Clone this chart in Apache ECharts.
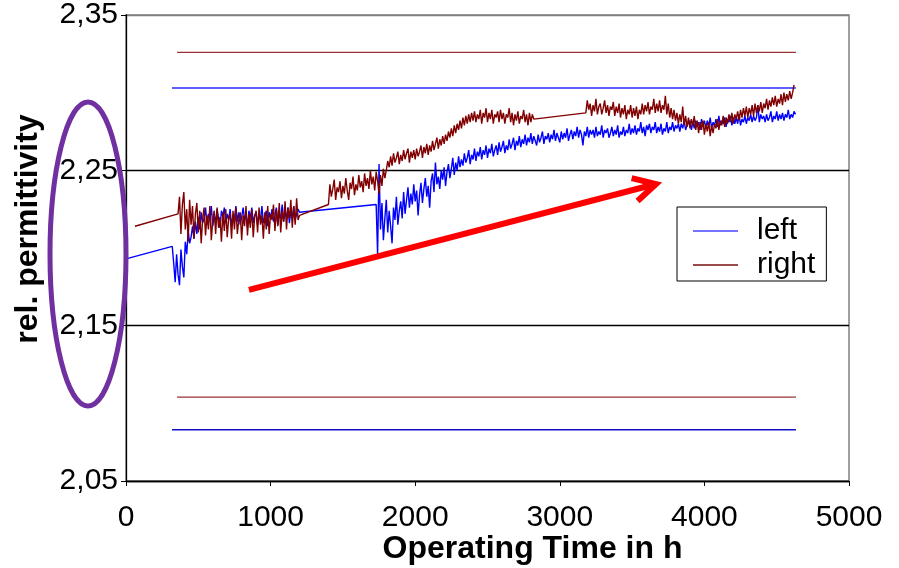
<!DOCTYPE html>
<html>
<head>
<meta charset="utf-8">
<script src="https://cdn.jsdelivr.net/npm/echarts@6/dist/echarts.min.js"></script>
<style>
  html, body { margin: 0; padding: 0; background: #fff; }
  #main { width: 899px; height: 568px; }
</style>
</head>
<body>
<div id="main"></div>
<script>
// sample spacing of the logged values, hours
var STEP = 10;

// "left" sensor, rel. permittivity
var leftLead = [[0, 2.193]];
var leftStart1 = 320;
var left1 = [
  2.201, 2.190, 2.178, 2.196, 2.183, 2.176, 2.199, 2.188, 2.181, 2.204,
  2.196, 2.211, 2.203, 2.207, 2.214, 2.206, 2.217, 2.209, 2.220, 2.212,
  2.223, 2.216, 2.219, 2.226, 2.215, 2.222, 2.218, 2.227, 2.214, 2.221,
  2.217, 2.225, 2.219, 2.213, 2.224, 2.220, 2.226, 2.216, 2.222, 2.218,
  2.225, 2.214, 2.221, 2.219, 2.227, 2.217, 2.223, 2.215, 2.220, 2.226,
  2.218, 2.222, 2.213, 2.224, 2.219, 2.226, 2.216, 2.221, 2.223, 2.215,
  2.222, 2.218, 2.227, 2.216, 2.220, 2.224, 2.214, 2.223, 2.219, 2.225,
  2.217, 2.221, 2.226, 2.215, 2.222, 2.219, 2.228, 2.217, 2.223, 2.220,
  2.226, 2.216, 2.224, 2.219, 2.227, 2.218, 2.222, 2.225, 2.223
];
var leftStart2 = 1730;
var left2 = [
  2.228, 2.196, 2.254, 2.212, 2.229, 2.205, 2.219, 2.231, 2.210, 2.224,
  2.214, 2.203, 2.226, 2.218, 2.233, 2.215, 2.224, 2.230, 2.219, 2.236,
  2.222, 2.231, 2.239, 2.226, 2.235, 2.228, 2.241, 2.230, 2.237, 2.221,
  2.234, 2.242, 2.229, 2.238, 2.245, 2.233, 2.240, 2.226, 2.243, 2.248,
  2.236, 2.255, 2.241, 2.246, 2.238, 2.250, 2.244, 2.252, 2.240, 2.249,
  2.254, 2.245, 2.251, 2.258, 2.247, 2.255, 2.250, 2.259, 2.252, 2.257,
  2.253, 2.261, 2.255, 2.258, 2.263, 2.254, 2.260, 2.257, 2.264, 2.256,
  2.262, 2.259, 2.265, 2.257, 2.263, 2.260, 2.266, 2.258, 2.264, 2.261,
  2.267, 2.259, 2.263, 2.266, 2.260, 2.268, 2.262, 2.265, 2.269, 2.261,
  2.266, 2.263, 2.270, 2.264, 2.267, 2.271, 2.263, 2.269, 2.266, 2.272,
  2.265, 2.270, 2.267, 2.273, 2.266, 2.271, 2.268, 2.274, 2.267, 2.272,
  2.269, 2.266, 2.273, 2.268, 2.271, 2.275, 2.267, 2.272, 2.270, 2.274,
  2.268, 2.273, 2.270, 2.276, 2.269, 2.274, 2.271, 2.268, 2.275, 2.270,
  2.274, 2.271, 2.277, 2.269, 2.273, 2.276, 2.270, 2.275, 2.272, 2.278,
  2.271, 2.276, 2.273, 2.266, 2.275, 2.272, 2.278, 2.271, 2.276, 2.273,
  2.276, 2.271, 2.278, 2.272, 2.275, 2.273, 2.279, 2.271, 2.276, 2.274,
  2.277, 2.271, 2.274, 2.278, 2.272, 2.276, 2.273, 2.279, 2.271, 2.275,
  2.273, 2.278, 2.272, 2.276, 2.274, 2.280, 2.273, 2.277, 2.274, 2.279,
  2.273, 2.277, 2.275, 2.281, 2.274, 2.278, 2.272, 2.279, 2.276, 2.280,
  2.274, 2.278, 2.276, 2.281, 2.274, 2.278, 2.275, 2.280, 2.273, 2.277,
  2.275, 2.281, 2.274, 2.278, 2.276, 2.281, 2.275, 2.279, 2.277, 2.280,
  2.275, 2.280, 2.277, 2.282, 2.276, 2.279, 2.278, 2.282, 2.276, 2.281,
  2.277, 2.282, 2.278, 2.281, 2.276, 2.283, 2.279, 2.282, 2.277, 2.282,
  2.278, 2.284, 2.277, 2.281, 2.279, 2.283, 2.278, 2.285, 2.279, 2.282,
  2.280, 2.284, 2.278, 2.283, 2.281, 2.285, 2.279, 2.284, 2.280, 2.284,
  2.280, 2.286, 2.279, 2.283, 2.281, 2.285, 2.280, 2.284, 2.282, 2.286,
  2.281, 2.285, 2.282, 2.284, 2.292, 2.281, 2.286, 2.283, 2.285, 2.281,
  2.286, 2.282, 2.284, 2.288, 2.281, 2.285, 2.283, 2.288, 2.282, 2.286,
  2.283, 2.287, 2.282, 2.286, 2.284, 2.289, 2.283, 2.286, 2.284, 2.288,
  2.286
];

// "right" sensor
var rightLead = [[62, 2.214]];
var rightStart1 = 360;
var right1 = [
  2.222, 2.233, 2.209, 2.228, 2.236, 2.212, 2.225, 2.204, 2.231, 2.215,
  2.227, 2.206, 2.222, 2.229, 2.210, 2.224, 2.203, 2.219, 2.226, 2.208,
  2.221, 2.212, 2.227, 2.205, 2.218, 2.224, 2.209, 2.226, 2.213, 2.220,
  2.204, 2.223, 2.211, 2.225, 2.207, 2.219, 2.222, 2.206, 2.224, 2.212,
  2.226, 2.209, 2.218, 2.223, 2.205, 2.221, 2.214, 2.227, 2.208, 2.222,
  2.213, 2.225, 2.207, 2.220, 2.224, 2.210, 2.226, 2.215, 2.221, 2.206,
  2.223, 2.212, 2.227, 2.209, 2.222, 2.218, 2.228, 2.211, 2.225, 2.214,
  2.229, 2.210, 2.224, 2.217, 2.230, 2.212, 2.226, 2.219, 2.231, 2.213,
  2.227, 2.215, 2.232, 2.218, 2.221
];
var rightStart2 = 1400;
var right2 = [
  2.228, 2.241, 2.233, 2.238, 2.244, 2.231, 2.239, 2.236, 2.243, 2.232,
  2.240, 2.235, 2.245, 2.237, 2.231, 2.242, 2.238, 2.246, 2.234, 2.241,
  2.237, 2.247, 2.239, 2.243, 2.236, 2.248, 2.240, 2.245, 2.238, 2.250,
  2.241, 2.246, 2.237, 2.249, 2.243, 2.235, 2.247, 2.240, 2.251, 2.245,
  2.250, 2.256, 2.252, 2.259, 2.253, 2.261, 2.255, 2.258, 2.262, 2.254,
  2.260, 2.256, 2.263, 2.257, 2.261, 2.264, 2.255, 2.262, 2.258, 2.263,
  2.257, 2.264, 2.259, 2.262, 2.266, 2.258, 2.265, 2.261, 2.267, 2.260,
  2.266, 2.262, 2.269, 2.263, 2.267, 2.271, 2.264, 2.270, 2.266, 2.272,
  2.267, 2.273, 2.269, 2.275, 2.271, 2.277, 2.272, 2.279, 2.274, 2.280,
  2.276, 2.282, 2.277, 2.284, 2.279, 2.285, 2.280, 2.286, 2.281, 2.287,
  2.282, 2.288, 2.281, 2.286, 2.283, 2.289, 2.280, 2.287, 2.284, 2.290,
  2.281, 2.287, 2.283, 2.289, 2.280, 2.286, 2.284, 2.288, 2.281, 2.289,
  2.283, 2.287, 2.280, 2.286, 2.284, 2.290, 2.281, 2.287, 2.279, 2.286,
  2.282, 2.288, 2.280, 2.285, 2.283, 2.289, 2.281, 2.286, 2.279, 2.287,
  2.281, 2.286, 2.283
];
var rightStart3 = 3180;
var right3 = [
  2.287, 2.295, 2.289, 2.293, 2.285, 2.292, 2.288, 2.296, 2.286, 2.291,
  2.293, 2.286, 2.290, 2.295, 2.287, 2.292, 2.285, 2.291, 2.289, 2.294,
  2.285, 2.291, 2.287, 2.293, 2.284, 2.290, 2.286, 2.292, 2.283, 2.289,
  2.286, 2.292, 2.284, 2.290, 2.285, 2.291, 2.283, 2.289, 2.286, 2.293,
  2.286, 2.292, 2.288, 2.294, 2.286, 2.291, 2.289, 2.296, 2.287, 2.293,
  2.288, 2.295, 2.287, 2.292, 2.289, 2.298, 2.286, 2.293, 2.284, 2.290,
  2.283, 2.289, 2.282, 2.287, 2.280, 2.286, 2.281, 2.291, 2.279, 2.285,
  2.278, 2.284, 2.277, 2.283, 2.279, 2.285, 2.276, 2.282, 2.274, 2.281,
  2.276, 2.282, 2.273, 2.280, 2.275, 2.281, 2.272, 2.279, 2.274, 2.280,
  2.277, 2.283, 2.276, 2.282, 2.279, 2.285, 2.278, 2.284, 2.280, 2.286,
  2.281, 2.287, 2.280, 2.286, 2.283, 2.288, 2.282, 2.289, 2.284, 2.290,
  2.285, 2.291, 2.284, 2.290, 2.286, 2.292, 2.285, 2.293, 2.287, 2.292,
  2.288, 2.294, 2.287, 2.293, 2.290, 2.296, 2.289, 2.295, 2.291, 2.297,
  2.292, 2.298, 2.291, 2.296, 2.293, 2.299, 2.292, 2.300, 2.294, 2.299,
  2.295, 2.301, 2.296, 2.300, 2.305
];

// limit lines: [from h, to h, value]
var leftUpper = [318, 4633, 2.303];
var rightUpper = [353, 4633, 2.326];
var rightLower = [353, 4633, 2.104];
var leftLower = [318, 4633, 2.083];

// annotation arrow in data units: [h, value]
var arrowFrom = [850, 2.173];
var arrowTo = [3665, 2.2412];

function seg(start, vals) {
  return vals.map(function (v, i) { return [start + i * STEP, v]; });
}
function limit(l) { return [[l[0], l[2]], [l[1], l[2]]]; }

var leftData = leftLead.concat(seg(leftStart1, left1), seg(leftStart2, left2));
var rightData = rightLead.concat(seg(rightStart1, right1), seg(rightStart2, right2), seg(rightStart3, right3));

var FONT = 'Liberation Sans';
var chart = echarts.init(document.getElementById('main'));

function limitSeries(l, color) {
  return {
    type: 'line', data: limit(l), symbol: 'none', silent: true, z: 1,
    lineStyle: { color: color, width: 1.3 }
  };
}

var option = {
  animation: false,
  textStyle: { fontFamily: FONT },
  grid: {
    left: 126, right: 50, top: 15, bottom: 87,
    containLabel: false, outerBoundsMode: 'none',
    show: true, borderColor: '#808080', borderWidth: 1.5
  },
  legend: {
    data: ['left', 'right'],
    orient: 'vertical',
    left: 677, top: 207,
    padding: [9, 11, 1, 16],
    icon: 'rect',
    itemWidth: 45, itemHeight: 2, itemGap: 4,
    textStyle: { fontSize: 30, fontFamily: FONT, color: '#000', padding: [0, 0, 0, 14] },
    borderColor: '#000', borderWidth: 1, borderRadius: 0,
    backgroundColor: '#fff'
  },
  xAxis: {
    type: 'value', min: 0, max: 5000, interval: 1000,
    name: 'Operating Time in h',
    nameLocation: 'middle', nameGap: 52, nameMoveOverlap: false,
    nameTextStyle: { fontSize: 32, fontWeight: 'bold', color: '#000', fontFamily: FONT, padding: [0, 0, 0, 90] },
    axisLine: { lineStyle: { color: '#000', width: 1.3 } },
    axisTick: { inside: false, length: 5, lineStyle: { color: '#000' } },
    axisLabel: {
      fontSize: 30, color: '#000', margin: 22, fontFamily: FONT,
      formatter: function (v) { return String(v); }
    },
    splitLine: { show: false }
  },
  yAxis: {
    type: 'value', min: 2.05, max: 2.35, interval: 0.1,
    name: 'rel. permittivity',
    nameLocation: 'middle', nameGap: 82, nameRotate: 90, nameMoveOverlap: false,
    nameTextStyle: { fontSize: 32, fontWeight: 'bold', color: '#000', fontFamily: FONT, padding: [0, 0, 0, 38] },
    axisLine: { show: true, lineStyle: { color: '#000', width: 1.3 } },
    axisTick: { show: true, inside: false, length: 5, lineStyle: { color: '#000' } },
    axisLabel: {
      fontSize: 30, color: '#000', margin: 8, fontFamily: FONT,
      formatter: function (v) { return v.toFixed(2).replace('.', ','); }
    },
    splitLine: { show: true, lineStyle: { color: ['#000', '#000', '#000', '#808080'], width: 1.3 } }
  },
  series: [
    limitSeries(leftUpper, '#2b2bff'),
    limitSeries(rightUpper, '#993333'),
    limitSeries(rightLower, '#993333'),
    limitSeries(leftLower, '#1010c8'),
    {
      name: 'left', type: 'line', data: leftData, symbol: 'none', z: 2,
      lineStyle: { color: '#0000ff', width: 1.4 }, itemStyle: { color: '#7474ff' }
    },
    {
      name: 'right', type: 'line', data: rightData, symbol: 'none', z: 3,
      lineStyle: { color: '#800000', width: 1.4 }, itemStyle: { color: '#9a4a4a' }
    }
  ]
};
chart.setOption(option);

// annotations: arrow placed through the axes, ellipse around the tick labels
var p0 = chart.convertToPixel({ gridIndex: 0 }, arrowFrom);
var p1 = chart.convertToPixel({ gridIndex: 0 }, arrowTo);
var ang = Math.atan2(p0[1] - p1[1], p0[0] - p1[0]);
var headLen = 25, spread = 28 * Math.PI / 180;
var h1 = [p1[0] + headLen * Math.cos(ang + spread), p1[1] + headLen * Math.sin(ang + spread)];
var h2 = [p1[0] + headLen * Math.cos(ang - spread), p1[1] + headLen * Math.sin(ang - spread)];

chart.setOption({
  graphic: [
    {
      type: 'polyline', z: 100,
      shape: { points: [p0, p1] },
      style: { stroke: '#ff0000', lineWidth: 6, fill: null }
    },
    {
      type: 'polyline', z: 100,
      shape: { points: [h1, p1, h2] },
      style: { stroke: '#ff0000', lineWidth: 6, fill: null, lineJoin: 'miter' }
    },
    {
      type: 'ellipse', z: 100,
      shape: { cx: 88, cy: 254, rx: 38, ry: 152 },
      style: { stroke: '#7030a0', lineWidth: 5, fill: null }
    }
  ]
});
</script>
</body>
</html>
